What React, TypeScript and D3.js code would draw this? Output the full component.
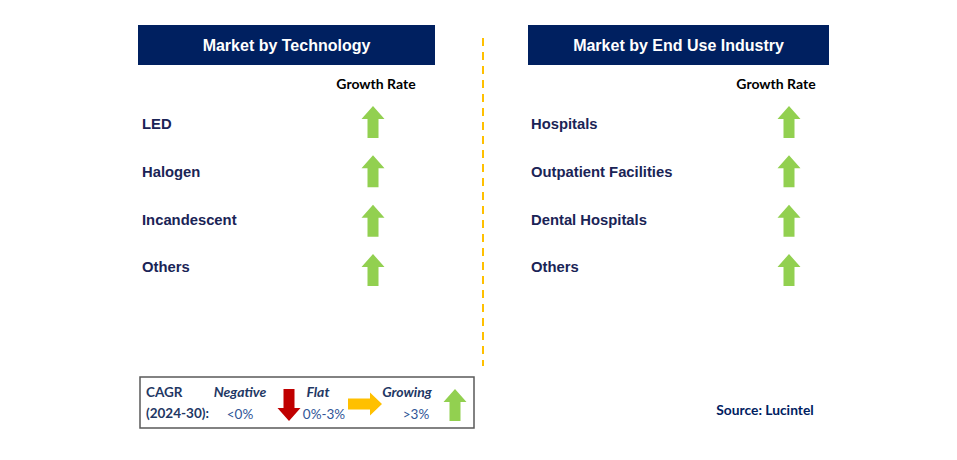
import React from "react";
import * as d3 from "d3";

const techCategories = ["LED", "Halogen", "Incandescent", "Others"];
const techGrowth = ["up", "up", "up", "up"];
const endUseCategories = ["Hospitals", "Outpatient Facilities", "Dental Hospitals", "Others"];
const endUseGrowth = ["up", "up", "up", "up"];
const legendLabels = ["Negative", "Flat", "Growing"];
const legendRanges = ["<0%", "0%-3%", ">3%"];
const legendDirs = ["down", "right", "up"];

const W = 957;
const H = 460;
const NAVY = "#002060";
const GREEN = "#92D050";
const RED = "#C00000";
const YELLOW = "#FFC000";

function arrowPath(cx: number, cy: number, dir: string, len = 32, headW = 23, shaftW = 11, headL = 13) {
  const h = len / 2;
  const pts: [number, number][] = [
    [0, -h],
    [headW / 2, -h + headL],
    [shaftW / 2, -h + headL],
    [shaftW / 2, h],
    [-shaftW / 2, h],
    [-shaftW / 2, -h + headL],
    [-headW / 2, -h + headL],
  ];
  const ang = dir === "up" ? 0 : dir === "down" ? Math.PI : Math.PI / 2;
  const rp = pts.map(([x, y]) => [cx + x * Math.cos(ang) - y * Math.sin(ang), cy + x * Math.sin(ang) + y * Math.cos(ang)] as [number, number]);
  return d3.line()(rp.concat([rp[0]])) + "Z";
}

function colorFor(dir: string) {
  return dir === "up" ? GREEN : dir === "down" ? RED : YELLOW;
}

const rowY = d3.scalePoint<string>().domain(["0", "1", "2", "3"]).range([124, 267]);
const arrowY = d3.scalePoint<string>().domain(["0", "1", "2", "3"]).range([122, 270]);

function Panel({ x0, x1, title, cats, growth, arrowX, labelX, grX }: any) {
  return (
    <g>
      <rect x={x0} y={25} width={x1 - x0} height={40} fill={NAVY} />
      <text x={(x0 + x1) / 2} y={45} dy="0.35em" textAnchor="middle" fill="#fff" fontFamily="Liberation Sans, Arial, sans-serif" fontWeight="bold" fontSize={16}>
        {title}
      </text>
      <text x={grX} y={84} dy="0.35em" textAnchor="middle" fill="#000" fontFamily="Lato, 'Open Sans', sans-serif" fontWeight="bold" fontSize={14}>
        Growth Rate
      </text>
      {cats.map((c: string, i: number) => (
        <g key={c}>
          <text x={labelX} y={rowY(String(i))!} dy="0.35em" fill="#1A2456" fontFamily="Liberation Sans, Arial, sans-serif" fontWeight="bold" fontSize={14.8}>
            {c}
          </text>
          <path d={arrowPath(arrowX, arrowY(String(i))!, growth[i])} fill={colorFor(growth[i])} />
        </g>
      ))}
    </g>
  );
}

export default function App() {
  const lx = [240, 324, 416];
  const ax = [289, 365, 455];
  const tx = [240, 318, 407];
  return (
    <svg width={W} height={H} style={{ position: "absolute", left: 0, top: 0, background: "#fff" }}>
      <Panel x0={138} x1={435} title="Market by Technology" cats={techCategories} growth={techGrowth} arrowX={373} labelX={142} grX={376} />
      <Panel x0={528} x1={829} title="Market by End Use Industry" cats={endUseCategories} growth={endUseGrowth} arrowX={789} labelX={531} grX={776} />
      <line x1={483} x2={483} y1={38} y2={366} stroke={YELLOW} strokeWidth={2} strokeDasharray="8,6" />
      <rect x={140} y={377} width={334} height={51} fill="#fff" stroke="#595959" strokeWidth={1.5} />
      <text x={146} y={392} dy="0.35em" fill="#1F3864" fontFamily="Lato, 'Open Sans', sans-serif" fontWeight="bold" fontSize={13.5}>CAGR</text>
      <text x={146} y={413} dy="0.35em" fill="#1F3864" fontFamily="Lato, 'Open Sans', sans-serif" fontWeight="bold" fontSize={13.5}>(2024-30):</text>
      {legendLabels.map((l, i) => (
        <g key={l}>
          <text x={tx[i]} y={392} dy="0.35em" textAnchor="middle" fill="#1F3864" fontFamily="Lato, 'Open Sans', sans-serif" fontWeight="bold" fontStyle="italic" fontSize={14}>{l}</text>
          <text x={lx[i]} y={414} dy="0.35em" textAnchor="middle" fill="#2F5597" fontFamily="Lato, 'Open Sans', sans-serif" fontSize={13.5}>{legendRanges[i]}</text>
          <path d={legendDirs[i] === "right" ? arrowPath(ax[i], 404, "right", 34, 23, 11, 12) : arrowPath(ax[i], 405, legendDirs[i])} fill={colorFor(legendDirs[i])} />
        </g>
      ))}
      <text x={765} y={410} dy="0.35em" textAnchor="middle" fill={NAVY} fontFamily="Lato, 'Open Sans', sans-serif" fontWeight="bold" fontSize={13.8}>Source: Lucintel</text>
    </svg>
  );
}
